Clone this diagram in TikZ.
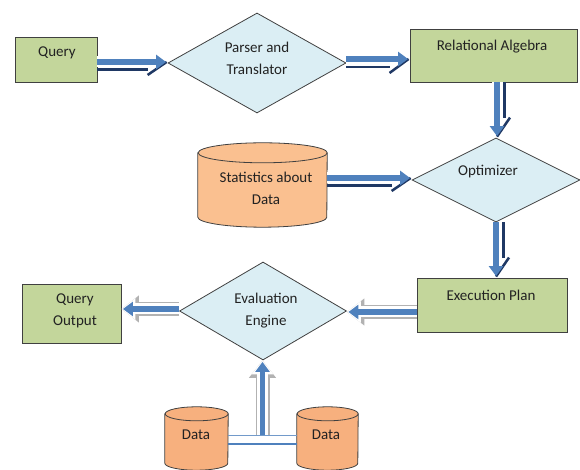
\documentclass[tikz,border=0pt]{standalone}
\usepackage{fontspec}
\setmainfont{Carlito}
\usetikzlibrary{shapes.geometric,arrows.meta,calc}
\definecolor{boxgreen}{HTML}{C3D69B}
\definecolor{diab}{HTML}{DBEEF4}
\definecolor{peach}{HTML}{FAC090}
\definecolor{dataor}{HTML}{F7B07E}
\definecolor{ablue}{HTML}{4F81BD}
\definecolor{shad}{HTML}{1F3864}
\definecolor{edge}{HTML}{404040}
\definecolor{txtc}{HTML}{222222}
\newcommand\drawcyl[4]{%
  \filldraw[cylf, fill=#4] ([yshift=-#3pt]#1.north west) -- ([yshift=#3pt]#1.south west)
    arc[start angle=180, end angle=360, x radius=#2pt, y radius=#3pt]
    -- ([yshift=-#3pt]#1.north east)
    arc[start angle=0, end angle=180, x radius=#2pt, y radius=#3pt] -- cycle;
  \draw[cylf] ([yshift=-#3pt]#1.north east)
    arc[start angle=0, end angle=-180, x radius=#2pt, y radius=#3pt];}
\begin{document}
\begin{tikzpicture}[x=1pt,y=1pt,
  gbox/.style={draw=edge, fill=boxgreen, line width=0.9pt, inner sep=0pt},
  dmd/.style={diamond, draw=edge, fill=diab, line width=0.8pt, inner sep=0pt, aspect=2},
  hold/.style={inner sep=0pt},
  txt/.style={text=txtc, font=\fontsize{15}{22}\selectfont, align=center, inner sep=0pt},
  cylf/.style={draw=edge, line width=0.8pt},
  awhite/.style={line width=11pt, white, -{Triangle[length=14pt,width=21pt]}},
  aborder/.style={line width=14pt, gray!60, -{Triangle[length=17.5pt,width=26pt]}},
  ablu/.style={line width=5.5pt, ablue, -{Triangle[length=10pt,width=14pt]}, shorten >=1.5pt},
  ashad/.style={line width=2.5pt, shad},
]
\useasboundingbox (0,0) rectangle (580,470);
\fill[white] (0,0) rectangle (580,470);

% shapes
\node[gbox, minimum width=82, minimum height=45] (q) at (56,410.5) {};
\node[txt] (qt) at (57,417) {Query};
\node[dmd, minimum width=178, minimum height=100] (p) at (257,407) {};
\node[txt] (pt) at (257,411.5) {Parser and\\Translator};
\node[gbox, minimum width=167, minimum height=53] (r) at (493.5,414.5) {};
\node[txt] (rt) at (492,423) {Relational Algebra};
\node[dmd, minimum width=168, minimum height=84] (o) at (496,290) {};
\node[txt] (ot) at (488,298) {Optimizer};
\node[hold, minimum width=129, minimum height=84] (s) at (262.5,285) {};
\drawcyl{s}{64.5}{10}{peach}
\node[txt] (st) at (266,281.5) {Statistics about\\Data};
\node[gbox, minimum width=150, minimum height=54] (e) at (492,165) {};
\node[txt] (et) at (491,175) {Execution Plan};
\node[dmd, minimum width=167, minimum height=98] (v) at (263,159) {};
\node[txt] (vt) at (266,159.5) {Evaluation\\Engine};
\node[gbox, minimum width=99, minimum height=59] (qo) at (71.5,156.5) {};
\node[txt] (qot) at (75,159.5) {Query\\Output};
\node[hold, minimum width=63, minimum height=63] (dl) at (196.5,31.5) {};
\drawcyl{dl}{31.5}{7}{dataor}
\node[txt] (dlt) at (196,35) {Data};
\node[hold, minimum width=61, minimum height=63] (dr) at (327.5,31.5) {};
\drawcyl{dr}{30.5}{7}{dataor}
\node[txt] (drt) at (326,35) {Data};

% arrow 1: Query -> Parser
\coordinate (a1s) at ([yshift=-2.5pt]q.east);
\coordinate (a1e) at (a1s -| p.west);
\draw[awhite] (a1s) -- (a1e);
\draw[ashad] ([yshift=-7.5pt]a1s) -- ([xshift=-20pt,yshift=-7.5pt]a1e);
\draw[ashad] ([xshift=-20pt,yshift=-13pt]a1e) -- ([xshift=-1pt]a1e);
\draw[ablu] (a1s) -- (a1e);

% arrow 2: Parser -> Relational Algebra
\coordinate (a2s) at ([yshift=4pt]p.east);
\coordinate (a2e) at (a2s -| r.west);
\draw[awhite] (a2s) -- (a2e);
\draw[ashad] ([yshift=-8pt]a2s) -- ([xshift=-20pt,yshift=-8pt]a2e);
\draw[ashad] ([xshift=-20pt,yshift=-14pt]a2e) -- ([xshift=-1pt]a2e);
\draw[ablu] (a2s) -- (a2e);

% arrow 3: Relational Algebra -> Optimizer
\coordinate (a3s) at ([xshift=3.5pt]r.south);
\coordinate (a3e) at (a3s |- o.north);
\draw[awhite] (a3s) -- (a3e);
\draw[ashad] ([xshift=7.5pt]a3s) -- ([xshift=7.5pt,yshift=20pt]a3e);
\draw[ashad] ([xshift=13pt,yshift=20pt]a3e) -- ([yshift=1pt]a3e);
\draw[ablu] (a3s) -- (a3e);

% arrow 4: Statistics -> Optimizer
\coordinate (a4s) at ([yshift=7pt]s.east);
\coordinate (a4e) at (a4s -| o.west);
\draw[awhite] (a4s) -- (a4e);
\draw[ashad] ([yshift=-7.5pt]a4s) -- ([xshift=-20pt,yshift=-7.5pt]a4e);
\draw[ashad] ([xshift=-20pt,yshift=-13pt]a4e) -- ([xshift=-1pt]a4e);
\draw[ablu] (a4s) -- (a4e);

% arrow 5: Optimizer -> Execution Plan
\coordinate (a5s) at (o.south);
\coordinate (a5e) at (a5s |- e.north);
\draw[awhite] (a5s) -- (a5e);
\draw[ashad] ([xshift=7.5pt]a5s) -- ([xshift=7.5pt,yshift=20pt]a5e);
\draw[ashad] ([xshift=13pt,yshift=20pt]a5e) -- ([yshift=1pt]a5e);
\draw[ablu] (a5s) -- (a5e);

% arrow 6: Execution Plan -> Evaluation Engine
\coordinate (a6s) at ([yshift=-7pt]e.west);
\coordinate (a6e) at (a6s -| v.east);
\draw[aborder] (a6s) -- (a6e);
\draw[awhite] (a6s) -- (a6e);
\draw[ablu] (a6s) -- (a6e);

% arrow 7: Evaluation Engine -> Query Output
\coordinate (a7s) at ([yshift=2pt]v.west);
\coordinate (a7e) at (a7s -| qo.east);
\draw[aborder] (a7s) -- (a7e);
\draw[awhite] (a7s) -- (a7e);
\draw[ablu] (a7s) -- (a7e);

% data link and arrow 8
\draw[ablue!80, line width=0.8pt] ([yshift=3.5pt]dl.east) -- ([yshift=3.5pt]dr.west);
\draw[ablue, line width=2.5pt] ([yshift=-5.5pt]dl.east) -- ([yshift=-5.5pt]dr.west);
\coordinate (a8s) at ($([yshift=3.5pt]dl.east)!0.5!([yshift=3.5pt]dr.west)$);
\coordinate (a8e) at (a8s |- v.south);
\draw[aborder] (a8s) -- (a8e);
\draw[awhite] (a8s) -- (a8e);
\draw[ablu] (a8s) -- (a8e);
\end{tikzpicture}
\end{document}
